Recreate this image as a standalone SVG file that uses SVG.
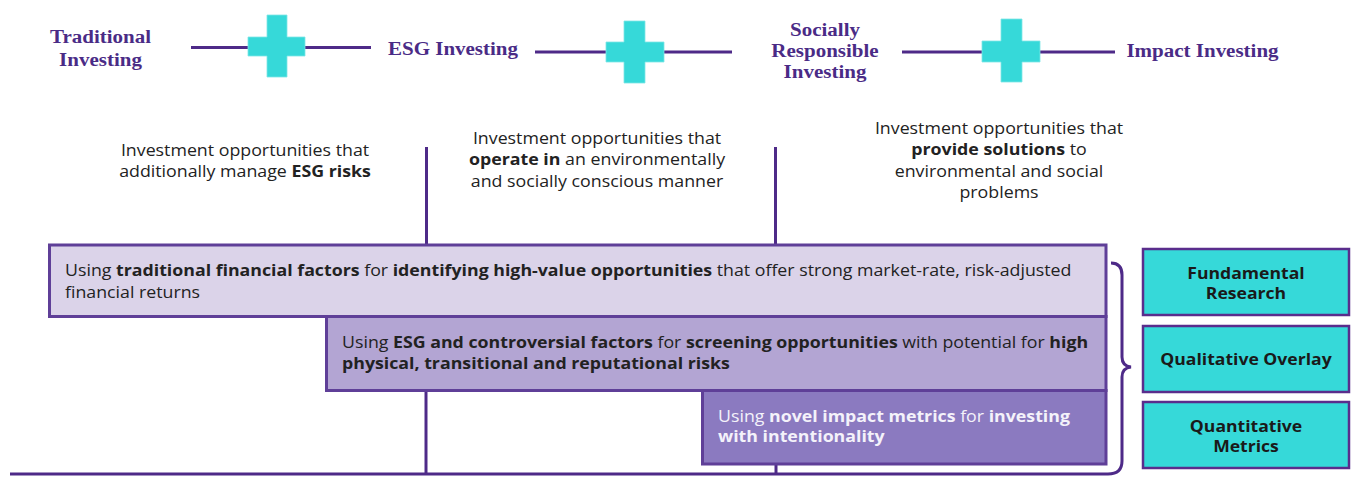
<svg xmlns="http://www.w3.org/2000/svg" width="1363" height="497" viewBox="0 0 1363 497">
<style>
.ttl{font-family:"Liberation Serif","Times New Roman",serif;font-weight:bold;font-size:19.5px;fill:#4a2b86;text-anchor:middle}
.desc{font-family:"Open Sans","Noto Sans",sans-serif;font-size:15.5px;fill:#222;text-anchor:middle}
.box{font-family:"Open Sans","Noto Sans",sans-serif;font-size:16px;fill:#222}
.w{fill:#f4f2fa}
.b{font-weight:bold}
.conn{stroke:#4e2a88;stroke-width:3;fill:none}
.cross{fill:#36d9d9;stroke:#7fe6e6;stroke-width:0.8}
.lvl{stroke:#5f3f98;stroke-width:3}
.side{fill:#36d9d9;stroke:#5a2d8c;stroke-width:2.5}
.sidet{font-family:"Open Sans","Noto Sans",sans-serif;font-size:16px;font-weight:bold;fill:#1a1a1a;text-anchor:middle}
</style>
<rect width="1363" height="497" fill="#fff"/>
<g id="connectors">
<line class="conn" x1="191" y1="47.5" x2="371" y2="47.5"/>
<line class="conn" x1="535" y1="52" x2="732" y2="52"/>
<line class="conn" x1="902" y1="52" x2="1115" y2="52"/>
<line class="conn" x1="426.5" y1="147" x2="426.5" y2="245"/>
<line class="conn" x1="775.5" y1="147" x2="775.5" y2="245"/>
<line class="conn" x1="426" y1="390" x2="426" y2="474"/>
<line class="conn" x1="776" y1="464" x2="776" y2="474"/>
<path class="conn" d="M10 474 L1108 474 Q1122 474 1122 461 L1122 377 Q1122 368 1131 367 Q1122 366 1122 357 L1122 275 Q1122 263 1111 263"/>
</g>
<g id="cross1"><path class="cross" d="M267 15h20v22h18v19h-18v21h-20v-21h-19v-19h19z"/></g>
<g id="cross2"><path class="cross" d="M624 21h21v21h19v20h-19v21h-21v-21h-18v-20h18z"/></g>
<g id="cross3"><path class="cross" d="M1001 19h21v22h18v21h-18v20h-21v-20h-19v-21h19z"/></g>
<g id="traditional" transform="translate(100.5,0) scale(1.077,1)"><text class="ttl" x="0" y="43">Traditional</text><text class="ttl" x="0" y="66">Investing</text></g>
<g id="esg" transform="translate(453,0) scale(1.077,1)"><text class="ttl" x="0" y="55">ESG Investing</text></g>
<g id="sri" transform="translate(825,0) scale(1.077,1)"><text class="ttl" x="0" y="36">Socially</text><text class="ttl" x="0" y="57">Responsible</text><text class="ttl" x="0" y="78">Investing</text></g>
<g id="impact" transform="translate(1202.5,0) scale(1.077,1)"><text class="ttl" x="0" y="57">Impact Investing</text></g>
<g id="desc-esg" transform="translate(245,0) scale(1.148,1)"><text class="desc" x="0" y="156">Investment opportunities that</text><text class="desc" x="0" y="177">additionally manage <tspan class="b">ESG risks</tspan></text></g>
<g id="desc-sri" transform="translate(597,0) scale(1.148,1)"><text class="desc" x="0" y="144">Investment opportunities that</text><text class="desc" x="0" y="165"><tspan class="b">operate in</tspan> an environmentally</text><text class="desc" x="0" y="187">and socially conscious manner</text></g>
<g id="desc-impact" transform="translate(999,0) scale(1.148,1)"><text class="desc" x="0" y="134">Investment opportunities that</text><text class="desc" x="0" y="155.5"><tspan class="b">provide solutions</tspan> to</text><text class="desc" x="0" y="177">environmental and social</text><text class="desc" x="0" y="198">problems</text></g>
<g id="level1"><rect class="lvl" x="49.5" y="245" width="1056.5" height="71.5" fill="#dbd3e9"/>
<g transform="translate(65,0) scale(1.11,1)">
<text class="box" x="0" y="276">Using <tspan class="b">traditional financial factors</tspan> for <tspan class="b">identifying high-value opportunities</tspan> that offer strong market-rate, risk-adjusted</text>
<text class="box" x="0" y="298">financial returns</text></g></g>
<g id="level2"><rect class="lvl" x="326.5" y="316.5" width="779.5" height="74" fill="#b3a5d3"/>
<g transform="translate(342,0) scale(1.11,1)">
<text class="box" x="0" y="348">Using <tspan class="b">ESG and controversial factors</tspan> for <tspan class="b">screening opportunities</tspan> with potential for <tspan class="b">high</tspan></text>
<text class="box b" x="0" y="369">physical, transitional and reputational risks</text></g></g>
<g id="level3"><rect class="lvl" x="702.5" y="390.5" width="403.5" height="73.5" fill="#8b7ac0"/>
<g transform="translate(718,0) scale(1.11,1)">
<text class="box w" x="0" y="422">Using <tspan class="b">novel impact metrics</tspan> for <tspan class="b">investing</tspan></text>
<text class="box b w" x="0" y="442">with intentionality</text></g></g>
<g id="fundamental"><rect class="side" x="1143" y="249" width="206" height="66"/><g transform="translate(1246,0) scale(1.1,1)"><text class="sidet" x="0" y="279">Fundamental</text><text class="sidet" x="0" y="299">Research</text></g></g>
<g id="qualitative"><rect class="side" x="1143" y="326" width="206" height="66"/><g transform="translate(1246,0) scale(1.1,1)"><text class="sidet" x="0" y="365">Qualitative Overlay</text></g></g>
<g id="quantitative"><rect class="side" x="1143" y="402" width="206" height="66"/><g transform="translate(1246,0) scale(1.1,1)"><text class="sidet" x="0" y="432">Quantitative</text><text class="sidet" x="0" y="452">Metrics</text></g></g>
</svg>
